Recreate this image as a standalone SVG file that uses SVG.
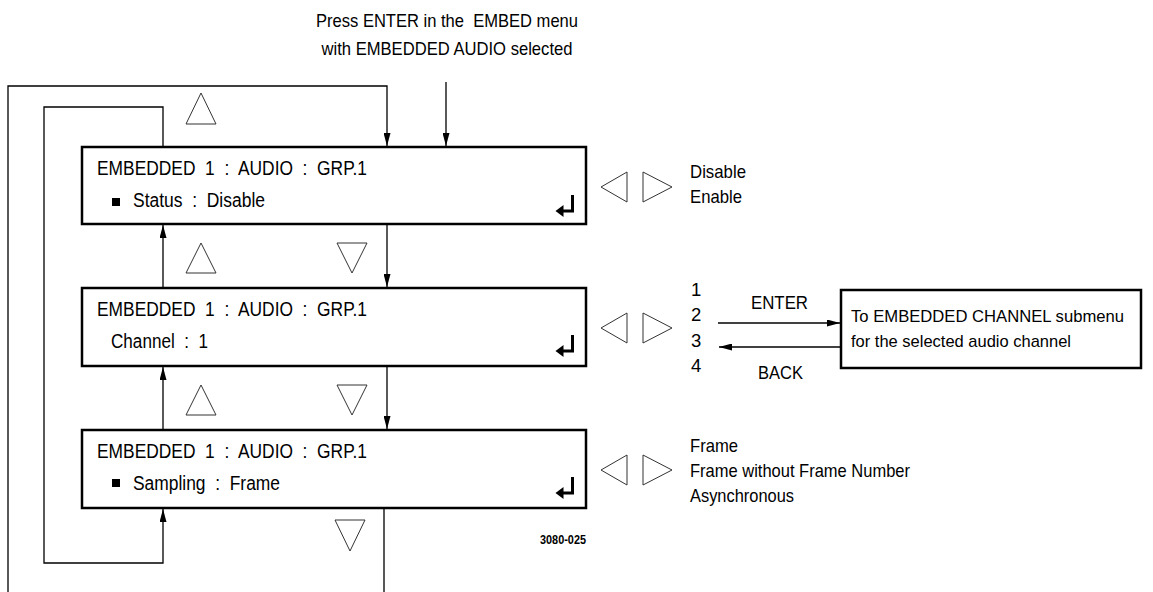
<svg xmlns="http://www.w3.org/2000/svg" width="1153" height="592" viewBox="0 0 1153 592">
<style>
text{font-family:"Liberation Sans",Arial,sans-serif;fill:#000;white-space:pre}
.bt{font-size:19.5px}
.st{font-size:18.5px}
.sb{font-size:17px}
.sm{font-size:13px;font-weight:bold}
.box{fill:#fff;stroke:#000;stroke-width:2.5}
.tri{fill:none;stroke:#333;stroke-width:1}
.cn{fill:none;stroke:#000;stroke-width:1.3}
.ret{fill:none;stroke:#000;stroke-width:3}
.sq{fill:#000}
</style>
<defs>
<marker id="ah" markerUnits="userSpaceOnUse" markerWidth="13" markerHeight="7" refX="13" refY="3.5" orient="auto"><path d="M0,0L13,3.5L0,7z" fill="#000"/></marker>
<g id="retsym"><path class="ret" d="M0,0V17.5M1.5,16H-10"/><path d="M-17,16L-9,10L-9,22z" fill="#000"/></g>
</defs>
<rect width="1153" height="592" fill="#fff"/>

<g id="connectors">
<path class="cn" d="M384,509V600H8V86H387V146" marker-end="url(#ah)"/>
<path class="cn" d="M163,147V107H44V563H163V509" marker-end="url(#ah)"/>
<path class="cn" d="M163,288V225" marker-end="url(#ah)"/>
<path class="cn" d="M163,430V367" marker-end="url(#ah)"/>
<path class="cn" d="M387,224V287" marker-end="url(#ah)"/>
<path class="cn" d="M387,366V429" marker-end="url(#ah)"/>
<path class="cn" d="M446,82V146" marker-end="url(#ah)"/>
<path class="cn" d="M718,323H840" marker-end="url(#ah)"/>
<path class="cn" d="M841,347H719" marker-end="url(#ah)"/>
</g>

<g id="entry-label">
<text class="st" x="447" y="27" text-anchor="middle" textLength="262" lengthAdjust="spacingAndGlyphs">Press ENTER in the  EMBED menu</text>
<text class="st" x="447" y="55" text-anchor="middle" textLength="251" lengthAdjust="spacingAndGlyphs">with EMBEDDED AUDIO selected</text>
</g>

<g id="nav-triangles">
<polygon class="tri" points="201,93 186,124 216,124"/>
<polygon class="tri" points="201,243 186,273 216,273"/>
<polygon class="tri" points="201,385 186,415 216,415"/>
<polygon class="tri" points="337,243 367,243 352,273"/>
<polygon class="tri" points="337,385 367,385 352,415"/>
<polygon class="tri" points="335,520 365,520 350,551"/>
<polygon class="tri" points="601,187 627,172 627,202"/>
<polygon class="tri" points="643,172 643,202 672,187"/>
<polygon class="tri" points="601,328 627,313 627,343"/>
<polygon class="tri" points="643,313 643,343 672,328"/>
<polygon class="tri" points="601,470 627,455 627,485"/>
<polygon class="tri" points="643,455 643,485 672,470"/>
</g>

<g id="node-status">
<rect class="box" x="82" y="147" width="504" height="77"/>
<text class="bt" x="97" y="175" textLength="270" lengthAdjust="spacingAndGlyphs">EMBEDDED  1  :  AUDIO  :  GRP.1</text>
<rect class="sq" x="112" y="198" width="8" height="8"/>
<text class="bt" x="133" y="207" textLength="132" lengthAdjust="spacingAndGlyphs">Status  :  Disable</text>
<use href="#retsym" x="572.5" y="195"/>
</g>

<g id="node-channel">
<rect class="box" x="82" y="288" width="504" height="78"/>
<text class="bt" x="97" y="316" textLength="270" lengthAdjust="spacingAndGlyphs">EMBEDDED  1  :  AUDIO  :  GRP.1</text>
<text class="bt" x="111" y="348" textLength="97" lengthAdjust="spacingAndGlyphs">Channel  :  1</text>
<use href="#retsym" x="572.5" y="335"/>
</g>

<g id="node-sampling">
<rect class="box" x="82" y="430" width="504" height="78"/>
<text class="bt" x="97" y="458" textLength="270" lengthAdjust="spacingAndGlyphs">EMBEDDED  1  :  AUDIO  :  GRP.1</text>
<rect class="sq" x="112" y="479" width="8" height="8"/>
<text class="bt" x="133" y="490" textLength="147" lengthAdjust="spacingAndGlyphs">Sampling  :  Frame</text>
<use href="#retsym" x="572.5" y="477"/>
</g>

<g id="status-options">
<text class="st" x="690" y="178" textLength="56" lengthAdjust="spacingAndGlyphs">Disable</text>
<text class="st" x="690" y="203" textLength="52" lengthAdjust="spacingAndGlyphs">Enable</text>
</g>

<g id="channel-options">
<text class="st" x="691" y="296">1</text>
<text class="st" x="691" y="321">2</text>
<text class="st" x="691" y="347">3</text>
<text class="st" x="691" y="372">4</text>
<text class="st" x="751" y="309" textLength="57" lengthAdjust="spacingAndGlyphs">ENTER</text>
<text class="st" x="758" y="379" textLength="45" lengthAdjust="spacingAndGlyphs">BACK</text>
</g>

<g id="node-submenu">
<rect class="box" x="841" y="290" width="300" height="78"/>
<text class="sb" x="851" y="322" textLength="273" lengthAdjust="spacingAndGlyphs">To EMBEDDED CHANNEL submenu</text>
<text class="sb" x="851" y="347" textLength="220" lengthAdjust="spacingAndGlyphs">for the selected audio channel</text>
</g>

<g id="sampling-options">
<text class="st" x="690" y="452" textLength="48" lengthAdjust="spacingAndGlyphs">Frame</text>
<text class="st" x="690" y="477" textLength="220" lengthAdjust="spacingAndGlyphs">Frame without Frame Number</text>
<text class="st" x="690" y="502" textLength="104" lengthAdjust="spacingAndGlyphs">Asynchronous</text>
</g>

<text class="sm" x="540" y="544" textLength="46" lengthAdjust="spacingAndGlyphs">3080-025</text>
</svg>
